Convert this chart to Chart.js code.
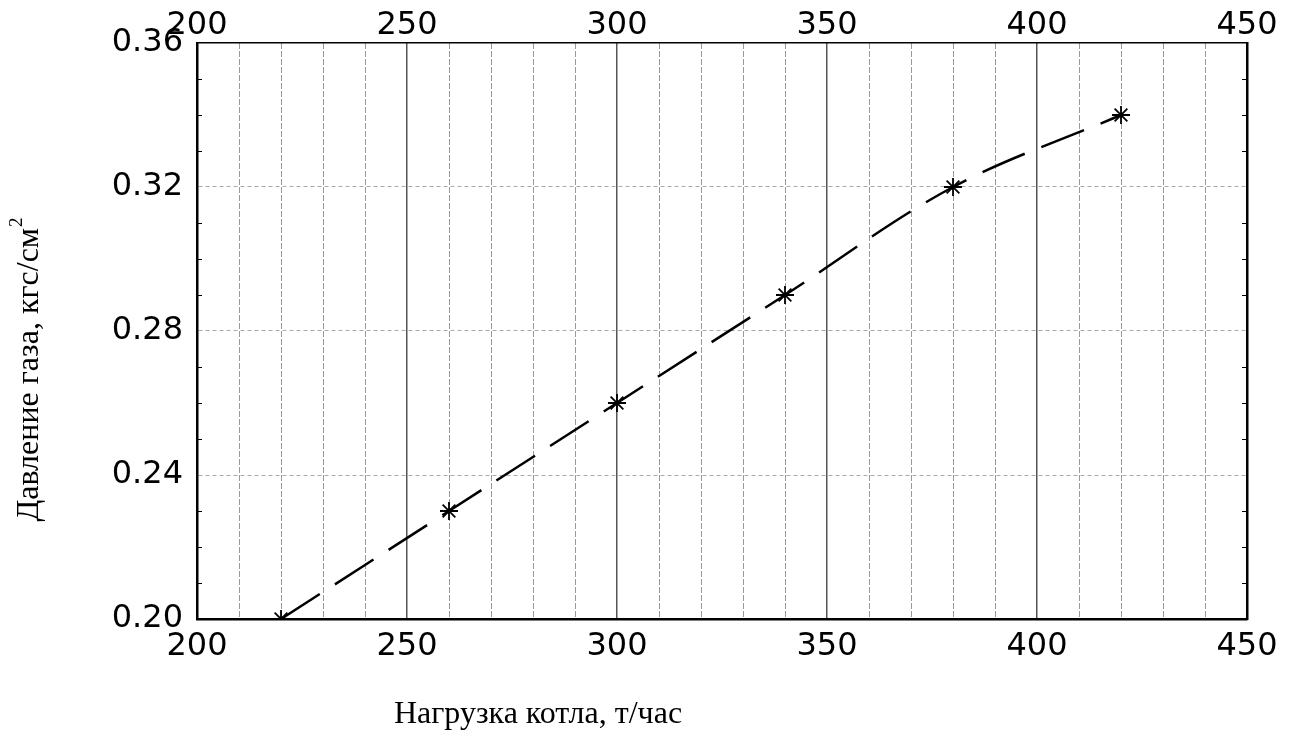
<!DOCTYPE html>
<html>
<head>
<meta charset="utf-8">
<script src="https://cdn.jsdelivr.net/npm/chart.js@4"></script>
<style>
  html, body { margin: 0; padding: 0; background: #fff; }
  #wrap { width: 1293px; height: 734px; position: relative; }
</style>
</head>
<body>
<div id="wrap"><canvas id="myChart"></canvas></div>
<script>
// data
const loads = [220, 260, 300, 340, 380, 420]
const pressure = [0.20, 0.23, 0.26, 0.29, 0.32, 0.34]
const xTickValues = [200, 250, 300, 350, 400, 450]
const yTickLabels = ["0.20", "0.24", "0.28", "0.32", "0.36"]
const xTitle = "Нагрузка котла, т/час"
const yTitle = "Давление газа, кгс/см"
const yTitleSup = "2"

const tickFont = { family: "DejaVu Sans", size: 32 }

// minor ticks on left/right edges, and axis titles
const extras = {
    id: 'extras',
    afterDatasetsDraw(chart) {
        const { ctx, chartArea, scales } = chart
        const y = scales.y
        ctx.save()
        ctx.strokeStyle = '#000'
        ctx.lineWidth = 1
        for (let i = 20; i <= 36; i++) {
            if (i % 4 === 0) continue
            const py = Math.round(y.getPixelForValue(i / 100)) + 0.5
            ctx.beginPath()
            ctx.moveTo(chartArea.left, py)
            ctx.lineTo(chartArea.left + 5, py)
            ctx.moveTo(chartArea.right, py)
            ctx.lineTo(chartArea.right - 5, py)
            ctx.stroke()
        }
        ctx.restore()
    },
    afterDraw(chart) {
        const { ctx } = chart
        ctx.save()
        ctx.fillStyle = '#000'
        ctx.font = '32px "Liberation Serif"'
        ctx.textAlign = 'center'
        ctx.textBaseline = 'alphabetic'
        ctx.fillText(xTitle, 538, 723)

        // rotated y title with superscript
        ctx.translate(38, 370)
        ctx.rotate(-Math.PI / 2)
        ctx.textAlign = 'left'
        const w1 = ctx.measureText(yTitle).width
        ctx.font = '19px "Liberation Serif"'
        const w2 = ctx.measureText(yTitleSup).width
        const x0 = -(w1 + w2) / 2
        ctx.font = '32px "Liberation Serif"'
        ctx.fillText(yTitle, x0, 0)
        ctx.font = '19px "Liberation Serif"'
        ctx.fillText(yTitleSup, x0 + w1 + 1, -16)
        ctx.restore()
    }
}

const ctx = document.getElementById('myChart').getContext('2d')

const myChart = new Chart(ctx, {
    type: 'line',
    data: {
        datasets: [
            {
                data: loads.map((v, i) => ({ x: v, y: pressure[i] })),
                borderColor: '#000',
                borderWidth: 2.5,
                borderDash: [46, 18],
                tension: 0.35,
                fill: false,
                pointStyle: 'star',
                pointRadius: 9,
                pointBorderWidth: 1.8,
                pointBorderColor: '#000',
                pointBackgroundColor: '#000',
                clip: 0,
            },
        ],
    },
    plugins: [extras],
    options: {
        responsive: true,
        maintainAspectRatio: false,
        animation: false,
        events: [],
        layout: { padding: 0 },
        plugins: {
            legend: { display: false },
            tooltip: { enabled: false },
        },
        scales: {
            x: {
                type: 'linear',
                position: 'bottom',
                min: 200,
                max: 450,
                afterBuildTicks(s) {
                    const t = []
                    for (let v = 200; v <= 450; v += 10) t.push({ value: v })
                    s.ticks = t
                },
                afterFit(s) { s.height = 115 },
                ticks: {
                    autoSkip: false,
                    maxRotation: 0,
                    color: '#000',
                    font: tickFont,
                    padding: 8,
                    callback: (v) => xTickValues.includes(v) ? String(v) : '',
                },
                grid: {
                    drawTicks: false,
                    color: (c) => {
                        const v = c.tick ? c.tick.value : 0
                        if (v === 200 || v === 450) return 'rgba(0,0,0,0)'
                        return v % 50 === 0 ? '#555' : '#999'
                    },
                    lineWidth: (c) => (c.tick && c.tick.value % 50 === 0) ? 1.5 : 1,
                },
                border: {
                    color: '#000',
                    width: 2.5,
                    dash: (c) => (c.tick && c.tick.value % 50 !== 0) ? [6, 2] : [],
                },
            },
            x2: {
                type: 'linear',
                position: 'top',
                min: 200,
                max: 450,
                afterBuildTicks(s) {
                    s.ticks = xTickValues.map(v => ({ value: v }))
                },
                afterFit(s) { s.height = 43 },
                ticks: {
                    autoSkip: false,
                    maxRotation: 0,
                    color: '#000',
                    font: tickFont,
                    padding: -2,
                },
                grid: { display: false, drawTicks: false },
                border: { color: '#000', width: 1.5 },
            },
            y: {
                type: 'linear',
                position: 'left',
                min: 0.20,
                max: 0.36,
                afterBuildTicks(s) {
                    s.ticks = yTickLabels.map(v => ({ value: parseFloat(v) }))
                },
                afterFit(s) { s.width = 197 },
                ticks: {
                    color: '#000',
                    font: tickFont,
                    padding: 14,
                    callback: (v) => v.toFixed(2),
                },
                grid: {
                    drawTicks: false,
                    color: (c) => {
                        const v = c.tick ? c.tick.value : 0
                        if (Math.abs(v - 0.20) < 1e-6 || Math.abs(v - 0.36) < 1e-6) return 'rgba(0,0,0,0)'
                        return '#aaa'
                    },
                    lineWidth: 1,
                },
                border: {
                    color: '#000',
                    width: 2.5,
                    dash: (c) => c.tick ? [4, 3] : [],
                },
            },
            y2: {
                type: 'linear',
                position: 'right',
                min: 0.20,
                max: 0.36,
                afterFit(s) { s.width = 46 },
                ticks: { display: false },
                grid: { display: false, drawTicks: false },
                border: { color: '#000', width: 2.5 },
            },
        },
    },
})
</script>
</body>
</html>
